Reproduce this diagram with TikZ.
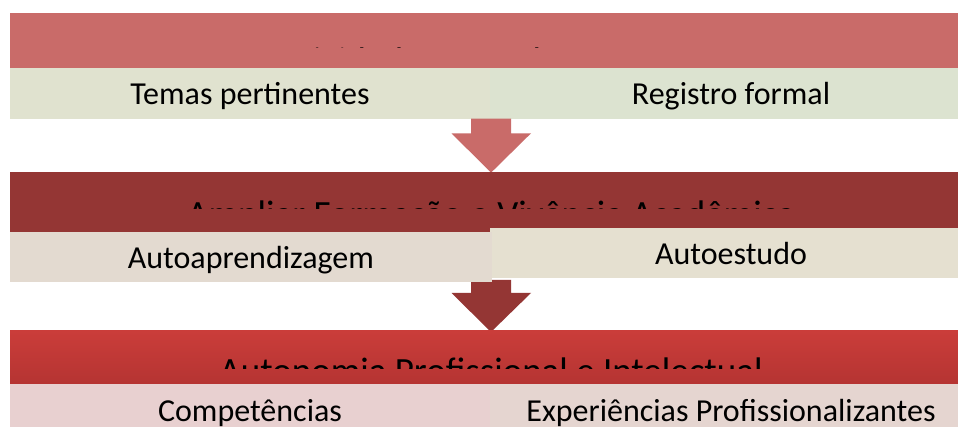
\documentclass[tikz,border=0pt]{standalone}
\usepackage{fontspec}
\setmainfont{Carlito}
\begin{document}
\begin{tikzpicture}[x=1pt,y=-1pt]
\definecolor{bandA}{RGB}{201,107,105}
\definecolor{bandB}{RGB}{148,54,52}
\definecolor{bandCtop}{RGB}{202,61,58}
\definecolor{bandCbot}{RGB}{181,52,50}
\definecolor{subAL}{RGB}{224,226,207}
\definecolor{subAR}{RGB}{220,227,208}
\definecolor{subBL}{RGB}{227,218,208}
\definecolor{subBR}{RGB}{229,224,208}
\definecolor{subCL}{RGB}{232,208,208}
\definecolor{subCR}{RGB}{229,213,208}
\tikzset{
  band/.style={draw=none, inner sep=0pt, outer sep=0pt, anchor=north west, minimum width=962pt, minimum height=#1},
  subbox/.style={draw=none, inner sep=0pt, outer sep=0pt, anchor=north west, minimum height=50.4pt, text height=23pt, text depth=0pt, font=\fontsize{32}{34}\selectfont},
  titletext/.style={anchor=base, inner sep=0pt, font=\fontsize{37}{40}\selectfont},
}
\useasboundingbox (0,0) rectangle (958,427);
\clip (0,0) rectangle (958,427);
\fill[white] (0,0) rectangle (958,427);

% ---------- level 1 ----------
\node[band=55.3pt, fill=bandA] (t1) at (10,13) {};
\begin{scope}
  \clip (10,13) rectangle (972,47.5);
  \node[titletext] (h1) at (491,73.2) {Atividades Complementares};
\end{scope}
\node[subbox, fill=subAL, minimum width=480pt] (a1) at (10,68.3) {Temas pertinentes};
\node[subbox, fill=subAR, minimum width=482pt] (b1) at (490,68.3) {Registro formal};

% arrow 1
\fill[bandA] (471,118.7) -- (511,118.7) -- (511,133.3) -- (531,133.3) -- (491,172.7) -- (451.5,133.3) -- (471,133.3) -- cycle;

% ---------- level 2 ----------
\node[band=60pt, fill=bandB] (t2) at (10,172.3) {};
\begin{scope}
  \clip (10,172.3) rectangle (972,208.5);
  \node[titletext] (h2) at (491,226.8) {Ampliar Formação e Vivência Acadêmica};
\end{scope}
% arrow 2
\fill[bandB] (471,280) -- (511,280) -- (511,293) -- (531,293) -- (491,332) -- (451.5,293) -- (471,293) -- cycle;
\node[subbox, fill=subBR, minimum width=482pt] (b2) at (490,227.7) {Autoestudo};
\node[subbox, fill=subBL, minimum width=481.7pt, minimum height=49.7pt] (a2) at (10,232) {Autoaprendizagem};

% ---------- level 3 ----------
\node[band=53.3pt, top color=bandCtop, bottom color=bandCbot] (t3) at (10,331) {};
\begin{scope}
  \clip (10,331) rectangle (972,368);
  \node[titletext] (h3) at (491,384) {Autonomia Profissional e Intelectual};
\end{scope}
\node[subbox, fill=subCL, minimum width=480pt] (a3) at (10,384.3) {Competências};
\node[subbox, fill=subCR, minimum width=482pt] (b3) at (490,384.3) {Experiências Profissionalizantes};
\end{tikzpicture}
\end{document}
